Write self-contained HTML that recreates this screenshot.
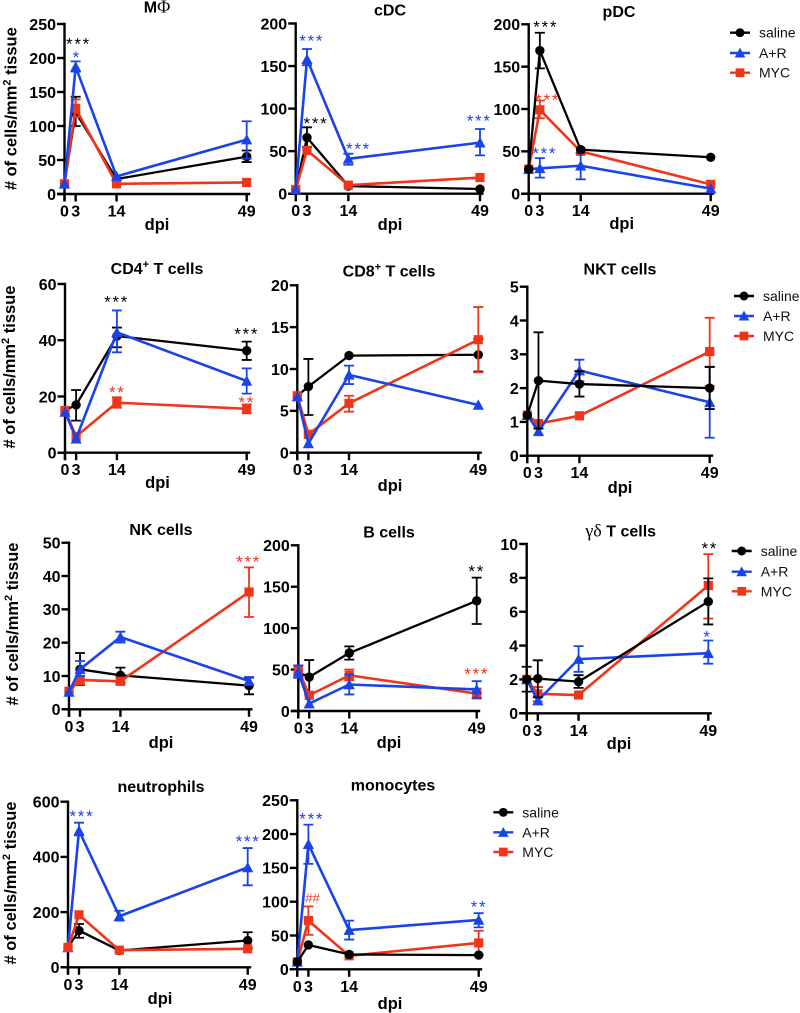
<!DOCTYPE html>
<html lang="en">
<head>
<meta charset="utf-8">
<title>Immune cell counts by dpi</title>
<style>
html,body{margin:0;padding:0;background:#fff;}
svg{display:block;font-family:"Liberation Sans",sans-serif;}
</style>
</head>
<body>
<svg id="figure" width="800" height="1013" viewBox="0 0 800 1013" xmlns="http://www.w3.org/2000/svg"></svg>
<script>
// ---- shared categories ----
const days = [0, 3, 14, 49];
const seriesLabels = ['saline', 'A+R', 'MYC'];

// ---- macrophages ----
const macTicks = [0, 50, 100, 150, 200, 250];
const macSaline = [15, 120, 22, 55];
const macSalineHi = [null, 143, null, 64];
const macSalineLo = [null, 100, null, 47];
const macAR = [15, 187, 26, 80];
const macARHi = [null, 195, null, 107];
const macARLo = [null, 180, null, 52];
const macMYC = [15, 126, 15, 17];
const macMYCHi = [null, 139, null, null];
const macMYCLo = [null, 113, null, null];

// ---- cDC ----
const cdcTicks = [0, 50, 100, 150, 200];
const cdcSaline = [5, 66, 9, 5.5];
const cdcSalineHi = [null, 78, null, null];
const cdcSalineLo = [null, 55, null, null];
const cdcAR = [5, 158, 41, 60];
const cdcARHi = [null, 170, 47, 76];
const cdcARLo = [null, 151, 34, 45];
const cdcMYC = [5, 51, 10, 19];
const cdcMYCHi = [null, null, null, null];
const cdcMYCLo = [null, null, null, null];

// ---- pDC ----
const pdcTicks = [0, 50, 100, 150, 200];
const pdcSaline = [29, 169, 52, 43];
const pdcSalineHi = [null, 190, null, null];
const pdcSalineLo = [null, 148, null, null];
const pdcAR = [29, 30, 33, 6];
const pdcARHi = [null, 42, 48, null];
const pdcARLo = [null, 19, 17, null];
const pdcMYC = [29, 99, 50, 11];
const pdcMYCHi = [null, 110, 53, null];
const pdcMYCLo = [null, 89, 47, null];

// ---- CD4 T cells ----
const cd4Ticks = [0, 20, 40, 60];
const cd4Saline = [15, 17, 41.5, 36.3];
const cd4SalineHi = [null, 22.3, 44.5, 39.5];
const cd4SalineLo = [null, 11.4, 37.5, 33];
const cd4AR = [14.5, 5, 42.8, 25.5];
const cd4ARHi = [null, null, 50.6, 30];
const cd4ARLo = [null, null, 35.7, 21];
const cd4MYC = [15, 5.8, 17.8, 15.6];
const cd4MYCHi = [null, null, 19.7, 17.2];
const cd4MYCLo = [null, null, 16, 14];

// ---- CD8 T cells ----
const cd8Ticks = [0, 5, 10, 15, 20];
const cd8Saline = [6.8, 7.9, 11.6, 11.7];
const cd8SalineHi = [null, 11.2, null, 13.6];
const cd8SalineLo = [null, 4.5, null, 9.7];
const cd8AR = [6.7, 1.1, 9.3, 5.7];
const cd8ARHi = [null, null, 10.4, null];
const cd8ARLo = [null, null, 8.2, null];
const cd8MYC = [6.8, 2.2, 5.9, 13.5];
const cd8MYCHi = [null, null, 6.8, 17.4];
const cd8MYCLo = [null, null, 4.9, 9.6];

// ---- NKT cells ----
const nktTicks = [0, 1, 2, 3, 4, 5];
const nktSaline = [1.2, 2.22, 2.12, 2.0];
const nktSalineHi = [null, 3.65, 2.5, 2.63];
const nktSalineLo = [null, 0.8, 1.75, 1.38];
const nktAR = [1.2, 0.72, 2.52, 1.58];
const nktARHi = [null, null, 2.84, 2.62];
const nktARLo = [null, null, 2.2, 0.53];
const nktMYC = [1.2, 0.95, 1.18, 3.08];
const nktMYCHi = [null, null, null, 4.08];
const nktMYCLo = [null, null, null, 2.07];

// ---- NK cells ----
const nkTicks = [0, 10, 20, 30, 40, 50];
const nkSaline = [5.2, 12, 10.2, 7.1];
const nkSalineHi = [null, 16.9, 12.5, 9.5];
const nkSalineLo = [null, 7.3, 8, 4.5];
const nkAR = [5.2, 12, 21.7, 8.5];
const nkARHi = [null, 14.5, 23.3, 9.7];
const nkARLo = [null, 10, 20, 7.3];
const nkMYC = [5.4, 8.8, 8.4, 35.2];
const nkMYCHi = [null, 10, 9.5, 42.6];
const nkMYCLo = [null, 7.5, 7.4, 27.7];

// ---- B cells ----
const bTicks = [0, 50, 100, 150, 200];
const bSaline = [47, 41, 70, 133];
const bSalineHi = [null, 61.5, 78, 161];
const bSalineLo = [null, 20, 62, 105];
const bAR = [47, 9, 32, 26];
const bARHi = [55, null, 44, 36];
const bARLo = [40, null, 20, 16];
const bMYC = [50, 19, 43, 21];
const bMYCHi = [55, null, 50, 27];
const bMYCLo = [45, null, 37, 15];

// ---- gamma delta T cells ----
const gdTicks = [0, 2, 4, 6, 8, 10];
const gdSaline = [2, 2.05, 1.87, 6.6];
const gdSalineHi = [2.75, 3.13, 2.25, 7.97];
const gdSalineLo = [1.28, 0.95, 1.5, 5.25];
const gdAR = [2, 0.75, 3.2, 3.55];
const gdARHi = [null, null, 3.97, 4.3];
const gdARLo = [null, null, 2.45, 2.93];
const gdMYC = [2, 1.15, 1.08, 7.55];
const gdMYCHi = [null, 1.55, null, 9.4];
const gdMYCLo = [null, 0.7, null, 5.6];

// ---- neutrophils ----
const neuTicks = [0, 200, 400, 600];
const neuSaline = [72, 133, 61, 97];
const neuSalineHi = [null, 157, null, 127];
const neuSalineLo = [null, 107, null, 68];
const neuAR = [72, 495, 185, 362];
const neuARHi = [null, 524, 205, 432];
const neuARLo = [null, 478, 169, 297];
const neuMYC = [72, 190, 62, 67];
const neuMYCHi = [null, null, null, null];
const neuMYCLo = [null, null, null, null];

// ---- monocytes ----
const monoTicks = [0, 50, 100, 150, 200, 250];
const monoSaline = [11, 36, 22, 21];
const monoSalineHi = [null, null, null, null];
const monoSalineLo = [null, null, null, null];
const monoAR = [11, 185, 58, 73];
const monoARHi = [null, 214, 72, 83];
const monoARLo = [null, 156, 44, 62];
const monoMYC = [11, 72, 20, 39];
const monoMYCHi = [null, 93, null, 57];
const monoMYCLo = [null, 51, null, 21];

// ---- panel wiring and layout ----
const COLORS = {saline: '#000000', AR: '#1a44ea', MYC: '#f0361a'};
const BLACK_TOP = ['MYC', 'AR', 'saline'];
const BLUE_TOP = ['saline', 'MYC', 'AR'];

const panels = [
  {id: 'mac', title: [['M', 0], ['\u03A6', 1]], ticks: macTicks,
   saline: [macSaline, macSalineHi, macSalineLo], AR: [macAR, macARHi, macARLo], MYC: [macMYC, macMYCHi, macMYCLo],
   box: {x0: 64.5, x49: 246.7, top: 24, base: 194}, titleAt: [157, 12.7], dpiAt: [157, 230], order: BLUE_TOP,
   yTitle: [16.7, 108.7],
   stars: [['***', 'saline', 3.76, 226], ['*', 'AR', 3.3, 206]]},
  {id: 'cdc', title: [['cDC', 0]], ticks: cdcTicks,
   saline: [cdcSaline, cdcSalineHi, cdcSalineLo], AR: [cdcAR, cdcARHi, cdcARLo], MYC: [cdcMYC, cdcMYCHi, cdcMYCLo],
   box: {x0: 295.7, x49: 480, top: 23.5, base: 193.7}, titleAt: [390, 15.7], dpiAt: [390, 230], order: BLUE_TOP,
   stars: [['***', 'AR', 4.25, 183.6], ['***', 'saline', 5.4, 87], ['***', 'AR', 16.7, 57], ['***', 'AR', 48.8, 90]]},
  {id: 'pdc', title: [['pDC', 0]], ticks: pdcTicks,
   saline: [pdcSaline, pdcSalineHi, pdcSalineLo], AR: [pdcAR, pdcARHi, pdcARLo], MYC: [pdcMYC, pdcMYCHi, pdcMYCLo],
   box: {x0: 528.7, x49: 710.7, top: 24.3, base: 193.7}, titleAt: [619, 17], dpiAt: [621.7, 229], order: BLACK_TOP,
   legend: {x1: 730, x2: 750, text: 759, ys: [32.7, 53, 72.7]},
   stars: [['***', 'saline', 4.6, 201], ['***', 'MYC', 5.1, 115], ['***', 'AR', 4.3, 51.6]]},
  {id: 'cd4', title: [['CD4', 0], ['+', 2], [' T cells', 3]], ticks: cd4Ticks,
   saline: [cd4Saline, cd4SalineHi, cd4SalineLo], AR: [cd4AR, cd4ARHi, cd4ARLo], MYC: [cd4MYC, cd4MYCHi, cd4MYCLo],
   box: {x0: 65, x49: 246.7, top: 284, base: 452.7}, titleAt: [157, 274], dpiAt: [157.5, 488], order: BLUE_TOP,
   yTitle: [15, 367],
   stars: [['***', 'saline', 13.9, 55], ['**', 'MYC', 14.1, 22.7], ['***', 'saline', 49, 43.6], ['**', 'MYC', 49, 19.1]]},
  {id: 'cd8', title: [['CD8', 0], ['+', 2], [' T cells', 3]], ticks: cd8Ticks,
   saline: [cd8Saline, cd8SalineHi, cd8SalineLo], AR: [cd8AR, cd8ARHi, cd8ARLo], MYC: [cd8MYC, cd8MYCHi, cd8MYCLo],
   box: {x0: 297.3, x49: 478.3, top: 285.3, base: 452.7}, titleAt: [389, 276.7], dpiAt: [390, 491], order: BLUE_TOP,
   stars: []},
  {id: 'nkt', title: [['NKT cells', 0]], ticks: nktTicks,
   saline: [nktSaline, nktSalineHi, nktSalineLo], AR: [nktAR, nktARHi, nktARLo], MYC: [nktMYC, nktMYCHi, nktMYCLo],
   box: {x0: 527.3, x49: 709.7, top: 286.7, base: 455.7}, titleAt: [620, 274.3], dpiAt: [620, 493], order: BLACK_TOP,
   legend: {x1: 734, x2: 754, text: 763, ys: [296, 316, 336]},
   stars: []},
  {id: 'nk', title: [['NK cells', 0]], ticks: nkTicks,
   saline: [nkSaline, nkSalineHi, nkSalineLo], AR: [nkAR, nkARHi, nkARLo], MYC: [nkMYC, nkMYCHi, nkMYCLo],
   box: {x0: 69, x49: 249, top: 542.7, base: 709.3}, titleAt: [161, 535], dpiAt: [161, 748], order: BLUE_TOP,
   yTitle: [18, 624],
   stars: [['***', 'MYC', 48.9, 45.3]]},
  {id: 'b', title: [['B cells', 0]], ticks: bTicks,
   saline: [bSaline, bSalineHi, bSalineLo], AR: [bAR, bARHi, bARLo], MYC: [bMYC, bMYCHi, bMYCLo],
   box: {x0: 298.3, x49: 476.7, top: 545.3, base: 711}, titleAt: [389, 537.7], dpiAt: [389, 748], order: BLUE_TOP,
   stars: [['**', 'saline', 49, 173], ['***', 'MYC', 49, 49]]},
  {id: 'gd', title: [['\u03B3\u03B4', 1], [' T cells', 0]], ticks: gdTicks,
   saline: [gdSaline, gdSalineHi, gdSalineLo], AR: [gdAR, gdARHi, gdARLo], MYC: [gdMYC, gdMYCHi, gdMYCLo],
   box: {x0: 526.7, x49: 708.3, top: 544, base: 713.3}, titleAt: [620.7, 536.7], dpiAt: [619, 749], order: BLACK_TOP,
   legend: {x1: 731.7, x2: 751.7, text: 760.7, ys: [551, 571.7, 591.3]},
   stars: [['**', 'saline', 49.4, 9.94], ['*', 'AR', 48.8, 4.74]]},
  {id: 'neu', title: [['neutrophils', 0]], ticks: neuTicks,
   saline: [neuSaline, neuSalineHi, neuSalineLo], AR: [neuAR, neuARHi, neuARLo], MYC: [neuMYC, neuMYCHi, neuMYCLo],
   box: {x0: 68, x49: 247.7, top: 801.7, base: 967.3}, titleAt: [161, 792], dpiAt: [160, 1004], order: ['saline', 'AR', 'MYC'],
   yTitle: [16, 883],
   stars: [['***', 'AR', 3.8, 560], ['***', 'AR', 49.1, 470]]},
  {id: 'mono', title: [['monocytes', 0]], ticks: monoTicks,
   saline: [monoSaline, monoSalineHi, monoSalineLo], AR: [monoAR, monoARHi, monoARLo], MYC: [monoMYC, monoMYCHi, monoMYCLo],
   box: {x0: 297.3, x49: 478.7, top: 800.3, base: 969.3}, titleAt: [393, 790.7], dpiAt: [390, 1009], order: BLACK_TOP,
   legend: {x1: 493.3, x2: 513.3, text: 522.3, ys: [812.3, 832.3, 852]},
   stars: [['***', 'AR', 3.9, 228], ['##', 'MYC', 4.1, 106], ['**', 'AR', 49.1, 97.5]]}
];

const NS = 'http://www.w3.org/2000/svg';
const root = document.getElementById('figure');

function make(parent, tag, attrs, text) {
  const el = document.createElementNS(NS, tag);
  for (const k in attrs) el.setAttribute(k, attrs[k]);
  if (text !== undefined) el.textContent = text;
  parent.appendChild(el);
  return el;
}

function seriesName(key) {
  return key === 'AR' ? 'a-r' : key.toLowerCase();
}

function drawMarker(parent, key, x, y, s) {
  let m;
  if (key === 'saline') {
    m = make(parent, 'circle', {cx: x, cy: y, r: 4.7 * s, fill: COLORS[key]});
  } else if (key === 'AR') {
    const w = 5.6 * s, h = 4.8 * s;
    m = make(parent, 'polygon', {points: (x - w) + ',' + (y + h) + ' ' + (x + w) + ',' + (y + h) + ' ' + x + ',' + (y - h - 0.8), fill: COLORS[key]});
  } else {
    const a = 4.6 * s;
    m = make(parent, 'rect', {x: x - a, y: y - a, width: 2 * a, height: 2 * a, fill: COLORS[key]});
  }
  return m;
}

panels.forEach(function (p) {
  const g = make(root, 'g', {});
  
  

  const b = p.box;
  const yMax = p.ticks[p.ticks.length - 1];
  const xScale = function (d) { return b.x0 + d * (b.x49 - b.x0) / 49; };
  const yScale = function (v) { return b.base - v * (b.base - b.top) / yMax; };

  // title
  const title = make(g, 'text', {x: p.titleAt[0], y: p.titleAt[1], 'text-anchor': 'middle', 'font-size': 16, 'font-weight': 'bold', fill: '#000'});
  
  
  p.title.forEach(function (seg) {
    const attrs = {};
    if (seg[1] === 1) { attrs['font-family'] = '"Liberation Serif", serif'; attrs['font-weight'] = 'normal'; attrs['font-size'] = 18; }
    if (seg[1] === 2) { attrs['font-size'] = 11; attrs['dy'] = -6; }
    if (seg[1] === 3) { attrs['dy'] = 6; }
    make(title, 'tspan', attrs, seg[0]);
  });

  // y-axis title
  if (p.yTitle) {
    const yt = make(g, 'text', {x: 0, y: 0, transform: 'translate(' + p.yTitle[0] + ',' + p.yTitle[1] + ') rotate(-90)', 'text-anchor': 'middle', 'font-size': 16.5, 'font-weight': 'bold', fill: '#000'});
    
    
    make(yt, 'tspan', {}, '# of cells/mm');
    make(yt, 'tspan', {dy: -6, 'font-size': 11}, '2');
    make(yt, 'tspan', {dy: 6}, ' tissue');
  }

  // axes
  const axisY = make(g, 'line', {x1: b.x0, x2: b.x0, y1: b.top - 1.2, y2: b.base + 7.5, stroke: '#000', 'stroke-width': 2.4});
  
  
  const axisX = make(g, 'line', {x1: b.x0 - 7.5, x2: b.x49 + 3.5, y1: b.base, y2: b.base, stroke: '#000', 'stroke-width': 2.4});
  
  

  p.ticks.forEach(function (t) {
    const y = yScale(t);
    const tick = make(g, 'line', {x1: b.x0 - 7.5, x2: b.x0, y1: y, y2: y, stroke: '#000', 'stroke-width': 2.4});
    
    
    const lab = make(g, 'text', {x: b.x0 - 8.5, y: y + 5.8, 'text-anchor': 'end', 'font-size': 16, 'font-weight': 'bold', fill: '#000'}, String(t));
    
    
  });

  days.forEach(function (d) {
    const x = xScale(d);
    const tick = make(g, 'line', {x1: x, x2: x, y1: b.base, y2: b.base + 7.5, stroke: '#000', 'stroke-width': 2.4});
    
    
    const lab = make(g, 'text', {x: x, y: b.base + 22.5, 'text-anchor': 'middle', 'font-size': 16, 'font-weight': 'bold', fill: '#000'}, String(d));
    
    
  });

  const dpi = make(g, 'text', {x: p.dpiAt[0], y: p.dpiAt[1], 'text-anchor': 'middle', 'font-size': 16.5, 'font-weight': 'bold', fill: '#000'}, 'dpi');
  
  

  // series
  p.order.forEach(function (key) {
    const vals = p[key][0], his = p[key][1], los = p[key][2];
    const color = COLORS[key];
    const sg = make(g, 'g', {});
    
    

    days.forEach(function (d, i) {
      if (his[i] === null && los[i] === null) return;
      const x = xScale(d);
      const eb = make(sg, 'path', {
        d: 'M' + x + ' ' + yScale(his[i]) + 'V' + yScale(los[i]) +
           'M' + (x - 5) + ' ' + yScale(his[i]) + 'H' + (x + 5) +
           'M' + (x - 5) + ' ' + yScale(los[i]) + 'H' + (x + 5),
        fill: 'none', stroke: color, 'stroke-width': 1.8
      });
      
      
    });

    const pts = days.map(function (d, i) { return xScale(d) + ',' + yScale(vals[i]); }).join(' ');
    const line = make(sg, 'polyline', {points: pts, fill: 'none', stroke: color, 'stroke-width': key === 'saline' ? 2.3 : 2.6, 'stroke-linejoin': 'round'});
    
    

    days.forEach(function (d, i) {
      const m = drawMarker(sg, key, xScale(d), yScale(vals[i]), 1);
      
      
    });
  });

  // significance annotations
  p.stars.forEach(function (s) {
    const hash = s[0] === '##';
    const size = hash ? 13 : 17;
    const st = make(g, 'text', {
      x: xScale(s[2]), y: yScale(s[3]) + (hash ? 4.8 : 9.2), 'text-anchor': 'middle',
      'font-size': size, 'letter-spacing': hash ? 0 : 1.7, fill: COLORS[s[1]]
    }, s[0]);
    
    
  });

  // legend
  if (p.legend) {
    const L = p.legend;
    const lg = make(g, 'g', {});
    
    
    ['saline', 'AR', 'MYC'].forEach(function (key, i) {
      const y = L.ys[i];
      const entry = make(lg, 'g', {});
      
      
      make(entry, 'line', {x1: L.x1, x2: L.x2, y1: y, y2: y, stroke: COLORS[key], 'stroke-width': 2.4});
      drawMarker(entry, key, (L.x1 + L.x2) / 2, y, 0.95);
      make(entry, 'text', {x: L.text, y: y + 5, 'font-size': 14, fill: '#111'}, seriesLabels[i]);
    });
  }
});
</script>
</body>
</html>
